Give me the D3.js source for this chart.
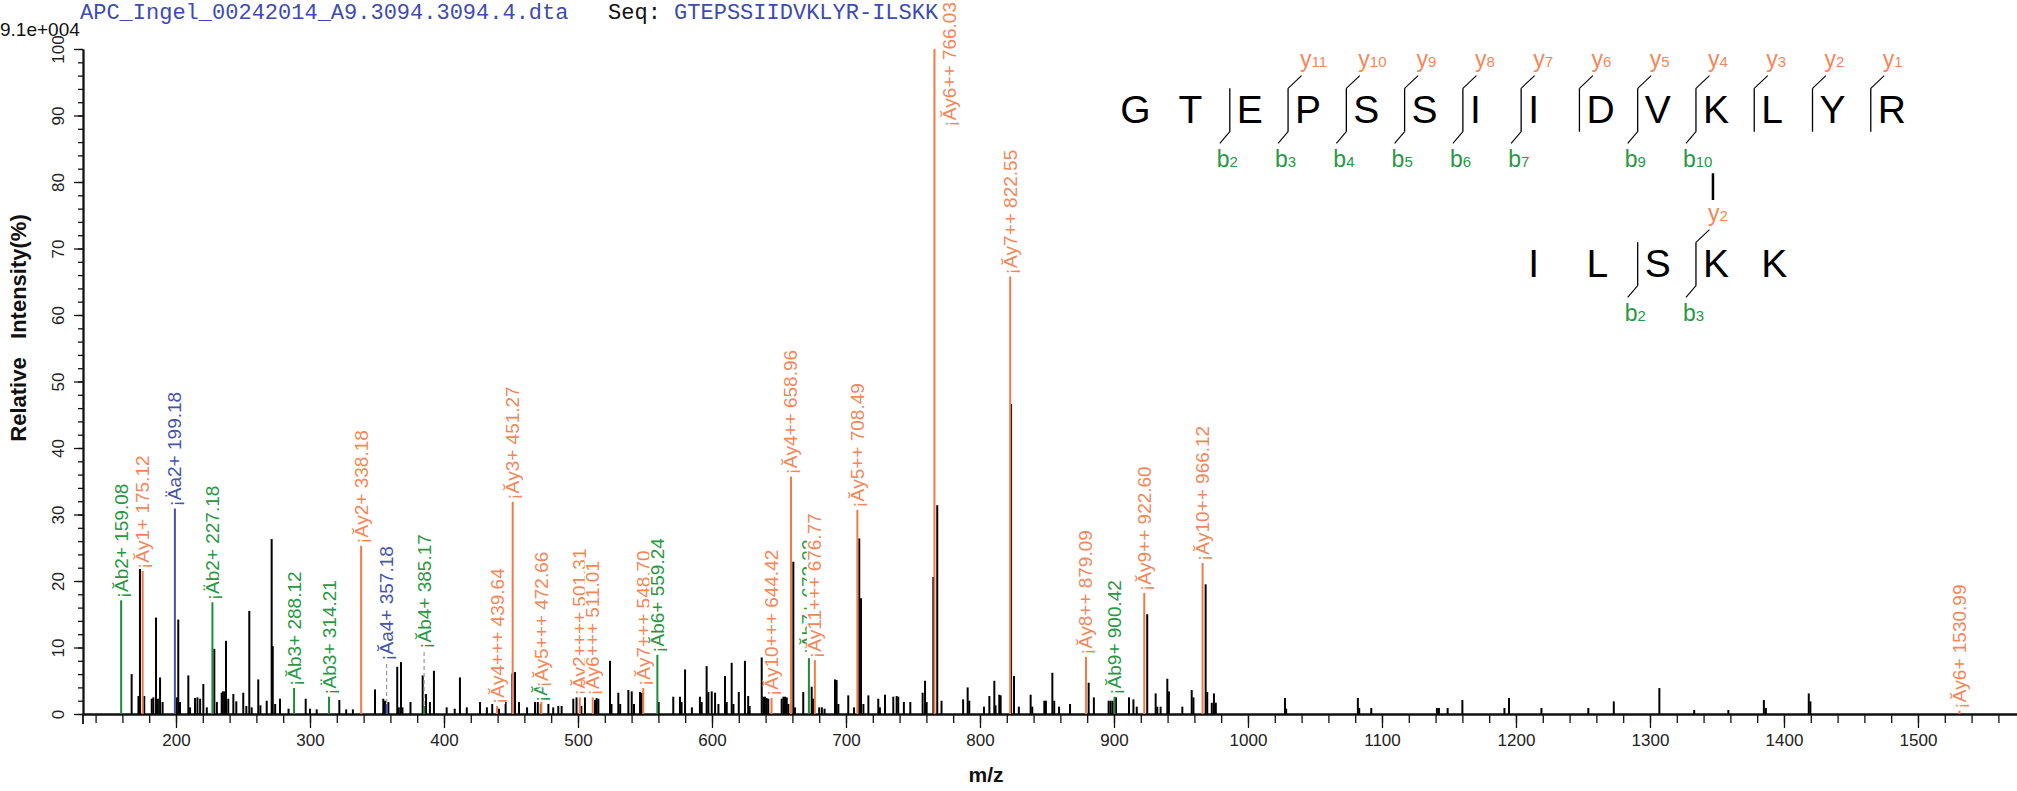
<!DOCTYPE html>
<html><head><meta charset="utf-8">
<script src="https://cdn.jsdelivr.net/npm/d3@7"></script>
<style>body{margin:0;background:#fff;} svg{display:block;}</style>
</head><body>
<svg id="c" width="2017" height="791"></svg>
<script>
// ---------- data ----------
const headerFile = "APC_Ingel_00242014_A9.3094.3094.4.dta";
const headerSeq = "GTEPSSIIDVKLYR-ILSKK";
const scaleNote = "9.1e+004";
const xTickValues = [200,300,400,500,600,700,800,900,1000,1100,1200,1300,1400,1500];
const yTickValues = [0,10,20,30,40,50,60,70,80,90,100];

// unassigned (black) peaks: m/z and relative intensity (%)
const blackMz = [166.9,172.0,173.1,176.3,181.9,183.1,185.1,186.5,188.1,190.0,200.5,201.7,203.0,209.2,210.5,214.2,216.0,218.0,220.4,223.0,
228.6,230.5,234.1,235.0,236.2,237.3,239.0,242.8,245.0,250.2,252.5,254.7,256.5,261.4,263.0,267.7,271.4,272.2,274.0,277.6,
284.0,296.8,300.0,305.0,321.9,327.0,332.0,348.5,354.7,356.0,358.5,365.1,366.3,367.9,369.0,375.0,384.1,386.6,389.5,392.5,
402.0,408.0,411.9,417.0,426.9,432.0,436.0,441.0,446.0,451.0,453.0,456.0,462.0,467.9,470.0,477.9,481.5,485.3,487.8,496.5,
498.9,502.5,505.2,512.7,513.9,515.2,523.9,525.0,530.1,531.5,537.6,540.1,541.8,546.3,547.6,560.2,571.1,576.1,577.3,579.9,
585.0,591.0,592.3,596.0,597.3,599.8,602.3,604.8,609.7,611.0,614.7,616.0,620.0,624.6,627.0,628.1,637.1,638.3,639.5,640.8,
642.0,652.0,653.3,654.5,655.8,657.0,660.7,661.9,668.1,674.4,675.5,680.0,682.0,684.0,691.8,693.0,694.3,701.7,706.0,709.9,
711.2,713.0,716.7,724.1,725.3,729.1,735.3,737.8,739.0,743.2,748.0,757.2,759.0,760.2,765.2,768.1,771.3,787.4,790.8,792.0,
803.0,807.0,810.7,811.6,814.4,815.4,823.2,825.4,829.0,837.8,839.0,848.0,849.2,854.0,855.4,859.0,867.2,881.1,885.0,896.0,
897.5,899.0,901.5,911.2,914.5,917.0,924.8,931.1,932.3,934.8,939.8,941.0,951.0,958.0,959.3,968.4,969.6,973.0,974.6,976.0,
1027.6,1028.5,1082.0,1083.0,1092.0,1141.0,1142.5,1149.0,1160.0,1191.4,1194.8,1219.0,1254.0,1273.0,1307.0,1333.0,1358.5,1385.0,1386.5,1418.5,1419.7];
const blackInt = [6.0,2.7,21.9,2.7,2.3,2.5,14.5,2.3,5.5,1.8,2.5,14.2,1.8,5.8,1.0,2.4,2.5,2.3,4.5,1.0,
9.8,1.8,3.2,3.4,3.4,11.0,2.3,3.0,1.9,3.2,1.2,15.5,1.0,5.2,1.3,2.0,26.3,10.2,1.5,2.3,
0.8,2.3,0.8,0.7,2.1,0.7,0.7,3.7,2.3,2.0,1.8,7.1,1.0,7.8,1.0,1.8,5.8,3.0,1.8,6.5,
1.0,0.8,5.5,1.0,1.8,1.0,1.5,0.8,1.8,6.1,6.3,1.8,1.0,2.5,1.8,1.5,1.0,1.2,1.2,2.3,
2.5,1.2,2.5,2.1,2.4,2.3,8.0,1.5,3.2,1.5,3.6,3.4,1.5,3.3,3.2,1.8,2.6,2.6,1.8,6.7,
1.0,2.6,1.8,7.2,3.3,3.4,3.2,1.5,5.7,1.8,7.7,1.5,3.3,8.0,2.7,1.2,8.5,2.6,2.6,2.4,
2.3,2.3,2.6,2.6,2.5,1.5,22.9,1.0,3.3,4.1,2.3,1.0,1.0,0.8,5.2,5.1,1.5,2.8,1.0,26.4,
17.4,1.5,2.8,2.3,1.0,2.9,2.6,2.7,2.6,1.8,1.8,3.2,5.0,1.8,20.6,31.4,2.0,2.2,4.0,2.0,
1.1,2.7,5.0,1.3,2.9,2.8,46.6,5.7,1.1,2.9,1.1,2.0,2.0,6.2,2.0,1.1,1.5,4.7,2.5,2.0,
2.0,2.0,2.5,2.5,2.2,1.1,15.0,3.1,1.1,1.1,5.3,3.4,1.1,3.6,2.5,19.5,3.3,1.7,3.1,1.7,
2.4,0.8,2.4,0.9,0.9,0.9,0.9,0.9,2.1,0.9,2.4,0.9,0.9,1.9,3.9,0.6,0.6,2.1,0.9,3.1,1.9];

// assigned fragment ions
const ionLabel = ["¡Ăb2+ 159.08","¡Ăy1+ 175.12","¡Äa2+ 199.18","¡Äb2+ 227.18","¡Ăb3+ 288.12","¡Äb3+ 314.21","¡Ăy2+ 338.18",
"¡Ăa4+ 357.18","¡Ăb4+ 385.17","¡Ăy4+++ 439.64","¡Ăy3+ 451.27","¡Ăb5+ 472.20","¡Ăy5+++ 472.66","¡Ăy2++++ 501.31",
"¡Ăy6+++ 511.01","¡Ăy7+++ 548.70","¡Ăb6+ 559.24","¡Ăy10+++ 644.42","¡Ăy4++ 658.96","¡Ăb7+ 672.32","¡Ăy11+++ 676.77",
"¡Ăy5++ 708.49","¡Ăy6++ 766.03","¡Ăy7++ 822.55","¡Ăy8++ 879.09","¡Ăb9+ 900.42","¡Ăy9++ 922.60","¡Ăy10++ 966.12","¡Ăy6+ 1530.99"];
const ionMz = [159.08,175.12,199.18,227.18,288.12,314.21,338.18,357.18,385.17,439.64,451.27,472.20,472.66,501.31,
511.01,548.70,559.24,644.42,658.96,672.32,676.77,708.49,766.03,822.55,879.09,900.42,922.60,966.12,1530.99];
const ionInt = [17.1,21.5,30.9,16.8,3.9,2.6,25.3,1.5,1.2,1.2,31.9,1.5,3.7,2.5,
2.5,3.9,8.9,2.4,35.7,8.7,8.1,30.7,100,65.8,8.6,2.6,18.2,22.7,0.5];
const ionType = ["b","y","a","b","b","b","y","a","b","y","y","b","y","y",
"y","y","b","y","y","b","y","y","y","y","y","b","y","y","y"];
const ionLabelLevel = [null,null,null,null,null,null,null,7.7,9.5,null,null,null,null,null,
null,null,null,null,null,null,null,null,null,null,null,null,null,null,null];

// peptide annotation
const seqMain = ["G","T","E","P","S","S","I","I","D","V","K","L","Y","R"];
const mainBSites = [2,3,4,5,6,7,9,10];
const mainYSites = [3,4,5,6,7,8,9,10,11,12,13];
const seqLinked = ["I","L","S","K","K"];
const linkedBSites = [2,3];
const linkedYSites = [3];

// ---------- drawing ----------
const svg = d3.select("#c");
const x = d3.scaleLinear().domain([130.6, 1573.9]).range([83, 2017]);
const y = d3.scaleLinear().domain([0, 100]).range([714, 49]);
const colors = {
  b: {line:"#1E8A3A", text:"#2A9843"},
  y: {line:"#F07B45", text:"#F4875A"},
  a: {line:"#4654AE", text:"#4654AE"}
};
const fontSans = "Arial, 'Liberation Sans', sans-serif";

// header
const hdr = svg.append("text").attr("x", 80).attr("y", 19)
  .attr("font-family", "'Courier New', 'Liberation Mono', monospace").attr("font-size", 22)
  .attr("xml:space","preserve").style("white-space","pre");
hdr.append("tspan").attr("fill","#3E4BB0").text(headerFile + "   ");
hdr.append("tspan").attr("fill","#111").text("Seq: ");
hdr.append("tspan").attr("fill","#3E4BB0").text(headerSeq);

svg.append("text").attr("x", 0).attr("y", 36).attr("font-family", fontSans)
  .attr("font-size", 19).attr("fill","#111").text(scaleNote);

// axes
const gx = svg.append("g").attr("transform", `translate(0,${y(0)})`);
const minorX = d3.range(140, 1561, 20);
gx.call(d3.axisBottom(x).tickValues(minorX).tickSize(9).tickFormat("").tickSizeOuter(0));
const gx2 = svg.append("g").attr("transform", `translate(0,${y(0)})`);
gx2.call(d3.axisBottom(x).tickValues(xTickValues).tickSize(14).tickPadding(6)
  .tickFormat(d3.format("d")).tickSizeOuter(0));
[gx, gx2].forEach(g => {
  g.selectAll("line").attr("stroke","#111").attr("stroke-width",1.3);
  g.select(".domain").attr("stroke","#111").attr("stroke-width",1.8);
});
gx2.selectAll("text").attr("font-family", fontSans).attr("font-size", 17).attr("fill","#222");

const gy = svg.append("g").attr("transform", `translate(${x.range()[0]},0)`);
gy.call(d3.axisLeft(y).tickValues(d3.range(0,101,2)).tickSize(5).tickFormat("").tickSizeOuter(0));
const gy2 = svg.append("g").attr("transform", `translate(${x.range()[0]},0)`);
gy2.call(d3.axisLeft(y).tickValues(yTickValues).tickSize(9).tickSizeOuter(0));
[gy, gy2].forEach(g => {
  g.selectAll("line").attr("stroke","#111").attr("stroke-width",1.3);
  g.select(".domain").attr("stroke","#111").attr("stroke-width",1.8);
});
gy2.selectAll("text").attr("x",0).attr("dy",null)
  .attr("transform","translate(-25,0) rotate(-90)")
  .attr("text-anchor","middle").attr("dominant-baseline","central")
  .attr("font-family", fontSans).attr("font-size", 17).attr("fill","#222");
svg.append("line").attr("x1", x.range()[0]).attr("x2", x.range()[0])
  .attr("y1", y(0)).attr("y2", y(0)+10).attr("stroke","#111").attr("stroke-width",1.8);

// axis titles
svg.append("text").attr("transform", `translate(18,328) rotate(-90)`)
  .attr("text-anchor","middle").attr("dominant-baseline","central")
  .attr("font-family", fontSans).attr("font-weight","bold").attr("font-size",22).attr("fill","#111")
  .attr("xml:space","preserve").style("white-space","pre")
  .text("Relative   Intensity(%)");
svg.append("text").attr("x", 986).attr("y", 782).attr("text-anchor","middle")
  .attr("font-family", fontSans).attr("font-weight","bold").attr("font-size",21).attr("fill","#111")
  .text("m/z");

// black peaks
svg.append("g").selectAll("line").data(blackMz.map((m,i)=>({m, v:blackInt[i]}))).join("line")
  .attr("x1", d=>x(d.m)).attr("x2", d=>x(d.m))
  .attr("y1", y(0)).attr("y2", d=>y(d.v))
  .attr("stroke","#000").attr("stroke-width",2);

// ion peaks
const ions = ionMz.map((m,i)=>({m, v:ionInt[i], t:ionType[i], label:ionLabel[i], lvl:ionLabelLevel[i]}));
const gi = svg.append("g");
ions.forEach(d => {
  gi.append("line").attr("x1", x(d.m)).attr("x2", x(d.m)).attr("y1", y(0)).attr("y2", y(d.v))
    .attr("stroke", colors[d.t].line).attr("stroke-width", 2);
  if (d.lvl !== null) {
    gi.append("line").attr("x1", x(d.m)).attr("x2", x(d.m)).attr("y1", y(d.v)-1).attr("y2", y(d.lvl))
      .attr("stroke", "#9a9a9a").attr("stroke-width", 1.2).attr("stroke-dasharray","4,3");
  }
});
// ion labels (white boxes, drawn in m/z order)
const gl = svg.append("g");
ions.forEach(d => {
  const base = d.lvl !== null ? y(d.lvl) : y(d.v);
  const g = gl.append("g");
  const rect = g.append("rect").attr("fill","#fff");
  const t = g.append("text").attr("x",0).attr("y",0)
    .attr("dominant-baseline","central")
    .attr("font-family", fontSans).attr("font-size", 19).attr("fill", colors[d.t].text)
    .text(d.label);
  const len = t.node().getComputedTextLength();
  let bx = x(d.m), by = base - 2;
  if (by - len < 0) { bx = x(d.m) + 15; by = len + 2; }
  rect.attr("x", 0).attr("y", -8).attr("width", len).attr("height", 16);
  g.attr("transform", `translate(${bx},${by}) rotate(-90)`);
});

// peptide sequence diagram
const slot = 58.27;
const siteX = k => 1229.8 + (k-2)*slot;
const mainBase = 122.7, linkBase = 276.7;
const gs = svg.append("g").attr("font-family", fontSans);
function drawRow(seq, startSlot, baseY, bSites, ySites, nRes) {
  seq.forEach((c,i) => {
    gs.append("text").attr("x", siteX(startSlot+i) + 7).attr("y", baseY)
      .attr("font-size", 39).attr("fill","#000").text(c);
  });
  const sites = Array.from(new Set(bSites.concat(ySites))).sort((a,b)=>a-b);
  const top = baseY - 34.4, bot = baseY + 9;
  sites.forEach(s => {
    const sx = siteX(startSlot + s);
    gs.append("line").attr("x1",sx).attr("x2",sx).attr("y1",top).attr("y2",bot)
      .attr("stroke","#000").attr("stroke-width",1.3);
    if (bSites.includes(s)) {
      gs.append("line").attr("x1",sx).attr("x2",sx-10).attr("y1",bot).attr("y2",bot+11.6)
        .attr("stroke","#000").attr("stroke-width",1.1);
      const t = gs.append("text").attr("x", sx-13).attr("y", bot+35).attr("fill", colors.b.text);
      t.append("tspan").attr("font-size",23).text("b");
      t.append("tspan").attr("font-size",15).text(s);
    }
    if (ySites.includes(s)) {
      gs.append("line").attr("x1",sx).attr("x2",sx+13.5).attr("y1",top).attr("y2",top-12.7)
        .attr("stroke","#000").attr("stroke-width",1.1);
      const t = gs.append("text").attr("x", sx+12).attr("y", top-21).attr("fill", colors.y.text);
      t.append("tspan").attr("font-size",23).text("y");
      t.append("tspan").attr("font-size",15).text(nRes - s);
    }
  });
}
drawRow(seqMain, 0, mainBase, mainBSites, mainYSites, seqMain.length);
drawRow(seqLinked, 7, linkBase, linkedBSites, linkedYSites, seqLinked.length);
// cross-link connector between K residues
gs.append("line").attr("x1", siteX(10)+17).attr("x2", siteX(10)+17)
  .attr("y1", 173.3).attr("y2", 200).attr("stroke","#000").attr("stroke-width",2.5);
</script></body></html>
